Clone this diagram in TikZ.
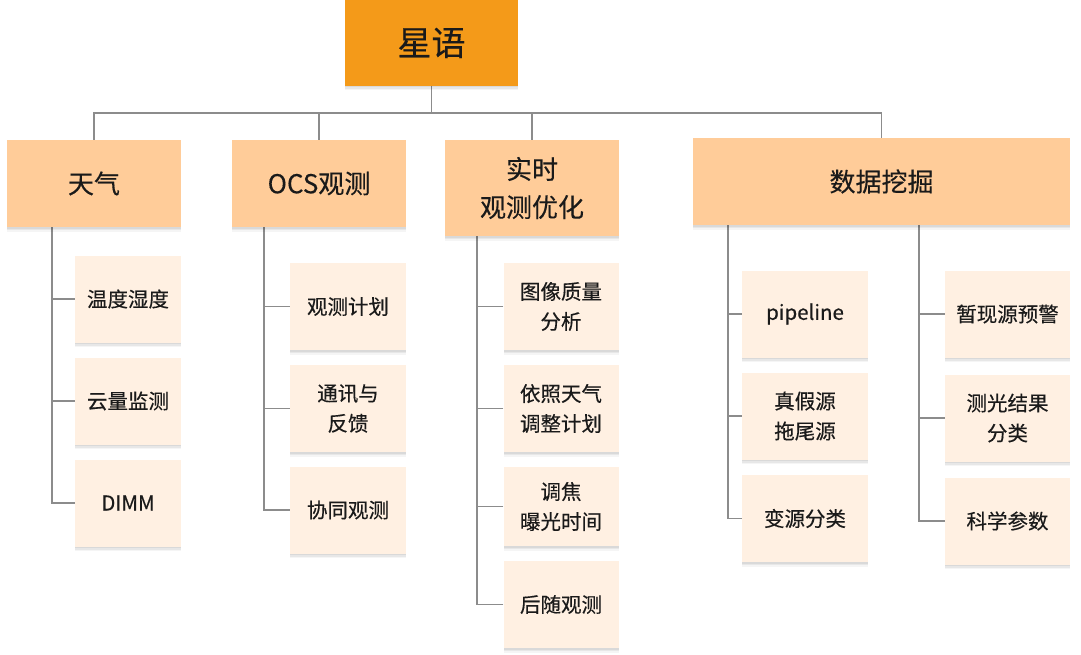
\documentclass[tikz,border=0pt]{standalone}
\usepackage{fontspec}
\setmainfont{Noto Sans CJK SC}[FakeBold=0.35]
\usetikzlibrary{shadows,backgrounds}
\definecolor{rootc}{HTML}{F49A19}
\definecolor{lonec}{HTML}{FFCC99}
\definecolor{ltwoc}{HTML}{FFF0E2}
\definecolor{linec}{HTML}{8C8C8C}
\definecolor{txtc}{HTML}{1A1A1A}
\tikzset{
  box/.style={inner sep=0pt, align=center, text=txtc,
    drop shadow={shadow xshift=0pt, shadow yshift=-1.5pt, opacity=0.06, fill=black},
    drop shadow={shadow xshift=0pt, shadow yshift=-3pt, opacity=0.06, fill=black},
    drop shadow={shadow xshift=0pt, shadow yshift=-4.5pt, opacity=0.04, fill=black}},
  rootbox/.style={box, fill=rootc, minimum width=173pt, minimum height=86pt,
    font=\fontsize{34}{40}\selectfont},
  lonebox/.style={box, fill=lonec, minimum height=87pt,
    font=\fontsize{26}{38}\selectfont},
  ltwobox/.style={box, fill=ltwoc, minimum height=87pt,
    font=\fontsize{20.5}{30}\selectfont},
  conn/.style={draw=linec, line width=1.1pt},
}
\begin{document}
\begin{tikzpicture}[x=1pt,y=-1pt]
\useasboundingbox (0,0) rectangle (1081,655);
% root
\node[rootbox] (root) at (431.5,43) {星语};
% level 1
\node[lonebox, minimum width=174pt] (tq) at (94,183.5) {天气};
\node[lonebox, minimum width=174pt] (ocs) at (319,183.5) {OCS观测};
\node[lonebox, minimum width=174pt, minimum height=96pt] (ss) at (532,188) {实时\\观测优化};
\node[lonebox, minimum width=377pt] (sj) at (881.5,181.5) {数据挖掘};
% level 2, column 1
\node[ltwobox, minimum width=106pt] (wd) at (128,299) {温度湿度};
\node[ltwobox, minimum width=106pt] (yl) at (128,401) {云量监测};
\node[ltwobox, minimum width=106pt] (dimm) at (128,503) {DIMM};
% column 2
\node[ltwobox, minimum width=116pt] (gc) at (348,306.5) {观测计划};
\node[ltwobox, minimum width=116pt] (tx) at (348,408.5) {通讯与\\反馈};
\node[ltwobox, minimum width=116pt] (xt) at (348,510) {协同观测};
% column 3
\node[ltwobox, minimum width=115pt] (tx3) at (561,306.5) {图像质量\\分析};
\node[ltwobox, minimum width=115pt] (yz) at (561,408.5) {依照天气\\调整计划};
\node[ltwobox, minimum width=115pt, minimum height=79pt] (tj) at (561,506.5) {调焦\\曝光时间};
\node[ltwobox, minimum width=115pt] (hs) at (561,604.5) {后随观测};
% column 4a
\node[ltwobox, minimum width=126pt] (pl) at (805,314) {pipeline};
\node[ltwobox, minimum width=126pt] (zj) at (805,416) {真假源\\拖尾源};
\node[ltwobox, minimum width=126pt] (by) at (805,518.5) {变源分类};
% column 4b
\node[ltwobox, minimum width=125pt] (zx) at (1007.5,314) {暂现源预警};
\node[ltwobox, minimum width=125pt] (cg) at (1007.5,418) {测光结果\\分类};
\node[ltwobox, minimum width=125pt] (kx) at (1007.5,521) {科学参数};
% coordinates
\coordinate (bus) at (431.5,113);
\coordinate (sa) at (52,227);
\coordinate (sb) at (264,227);
\coordinate (sc) at (477,236);
\coordinate (sd) at (728,225);
\coordinate (se) at (919,225);
\begin{scope}[on background layer]
\draw[conn] (root.south) -- (bus);
\draw[conn] (tq.north) |- (bus);
\draw[conn] (ocs.north) |- (bus);
\draw[conn] (ss.north) |- (bus);
\draw[conn] (sj.north) |- (bus);
\draw[conn] (wd.west) -| (sa);
\draw[conn] (yl.west) -| (sa);
\draw[conn] (dimm.west) -| (sa);
\draw[conn] (gc.west) -| (sb);
\draw[conn] (tx.west) -| (sb);
\draw[conn] (xt.west) -| (sb);
\draw[conn] (tx3.west) -| (sc);
\draw[conn] (yz.west) -| (sc);
\draw[conn] (tj.west) -| (sc);
\draw[conn] (hs.west) -| (sc);
\draw[conn] (pl.west) -| (sd);
\draw[conn] (zj.west) -| (sd);
\draw[conn] (by.west) -| (sd);
\draw[conn] (zx.west) -| (se);
\draw[conn] (cg.west) -| (se);
\draw[conn] (kx.west) -| (se);
\end{scope}
\end{tikzpicture}
\end{document}
